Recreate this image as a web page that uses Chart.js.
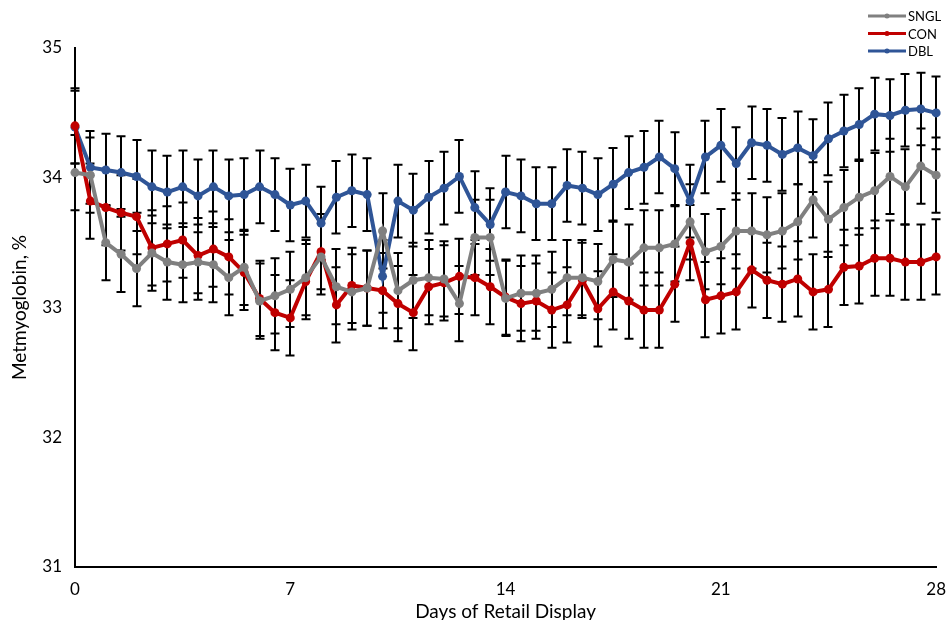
<!DOCTYPE html>
<html>
<head>
<meta charset="utf-8">
<title>Metmyoglobin during retail display</title>
<script src="https://cdn.jsdelivr.net/npm/chart.js@4.4.1/dist/chart.umd.min.js"></script>
<style>
  html, body { margin: 0; padding: 0; background: #fff; }
  canvas { display: block; }
</style>
</head>
<body>
<canvas id="chart" width="950" height="620"></canvas>
<script>
// sampling days (every half day of display)
var days = [0, 0.5, 1, 1.5, 2, 2.5, 3, 3.5, 4, 4.5, 5, 5.5, 6, 6.5, 7, 7.5, 8, 8.5, 9, 9.5,
  10, 10.5, 11, 11.5, 12, 12.5, 13, 13.5, 14, 14.5, 15, 15.5, 16, 16.5, 17, 17.5, 18, 18.5, 19, 19.5,
  20, 20.5, 21, 21.5, 22, 22.5, 23, 23.5, 24, 24.5, 25, 25.5, 26, 26.5, 27, 27.5, 28];

var sngl = [34.04, 34.02, 33.50, 33.41, 33.30, 33.42, 33.35, 33.33, 33.35, 33.33,
  33.23, 33.31, 33.05, 33.09, 33.14, 33.23, 33.39, 33.16, 33.12, 33.15,
  33.59, 33.13, 33.21, 33.23, 33.22, 33.03, 33.54, 33.54, 33.07, 33.11,
  33.11, 33.14, 33.23, 33.23, 33.20, 33.37, 33.35, 33.46, 33.46, 33.49,
  33.66, 33.43, 33.47, 33.59, 33.59, 33.56, 33.59, 33.66, 33.83, 33.68,
  33.77, 33.85, 33.90, 34.01, 33.93, 34.09, 34.02];

var con = [34.40, 33.82, 33.77, 33.73, 33.70, 33.46, 33.49, 33.52, 33.40, 33.45,
  33.39, 33.27, 33.07, 32.96, 32.92, 33.20, 33.43, 33.02, 33.17, 33.15,
  33.13, 33.03, 32.96, 33.16, 33.19, 33.24, 33.23, 33.16, 33.08, 33.03,
  33.05, 32.98, 33.02, 33.21, 32.99, 33.12, 33.05, 32.98, 32.98, 33.18,
  33.50, 33.06, 33.09, 33.12, 33.29, 33.21, 33.18, 33.22, 33.12, 33.14,
  33.31, 33.32, 33.38, 33.38, 33.35, 33.35, 33.39];

var dbl = [34.39, 34.08, 34.06, 34.04, 34.01, 33.93, 33.89, 33.93, 33.86, 33.93,
  33.86, 33.87, 33.93, 33.87, 33.79, 33.82, 33.65, 33.85, 33.90, 33.87,
  33.24, 33.82, 33.75, 33.85, 33.92, 34.01, 33.77, 33.64, 33.89, 33.86,
  33.80, 33.80, 33.94, 33.92, 33.87, 33.95, 34.04, 34.08, 34.16, 34.07,
  33.82, 34.16, 34.25, 34.11, 34.27, 34.25, 34.18, 34.23, 34.17, 34.30,
  34.36, 34.41, 34.49, 34.48, 34.52, 34.53, 34.50];

// pooled SEM per treatment
var semSNGL = 0.29;
var semCON = 0.29;
var semDBL = 0.28;

var xTicks = [0, 7, 14, 21, 28];
var yTicks = [31, 32, 33, 34, 35];

var FONT = 'Lato, "DejaVu Sans", sans-serif';

function points(values) {
  return days.map(function(d, i) { return { x: d, y: values[i] }; });
}

function series(label, values, sem, color) {
  return {
    label: label,
    data: points(values),
    sem: sem,
    borderColor: color,
    backgroundColor: color,
    pointBackgroundColor: color,
    pointBorderColor: color,
    borderWidth: 4,
    pointRadius: 4.5,
    pointBorderWidth: 0,
    tension: 0,
    clip: false
  };
}

// black SEM whiskers, drawn under the lines
var errorBars = {
  id: 'errorBars',
  beforeDatasetsDraw: function(chart) {
    var ctx = chart.ctx;
    var yScale = chart.scales.y;
    ctx.save();
    ctx.strokeStyle = '#000';
    ctx.lineWidth = 2;
    chart.data.datasets.forEach(function(ds, di) {
      var meta = chart.getDatasetMeta(di);
      meta.data.forEach(function(pt, i) {
        var v = ds.data[i].y;
        var top = yScale.getPixelForValue(v + ds.sem);
        var bot = yScale.getPixelForValue(v - ds.sem);
        var x = Math.round(pt.x);
        ctx.beginPath();
        ctx.moveTo(x, top);
        ctx.lineTo(x, bot);
        ctx.moveTo(x - 4.5, top);
        ctx.lineTo(x + 4.5, top);
        ctx.moveTo(x - 4.5, bot);
        ctx.lineTo(x + 4.5, bot);
        ctx.stroke();
      });
    });
    ctx.restore();
  }
};

// small legend stacked in the top right corner
var cornerLegend = {
  id: 'cornerLegend',
  afterDraw: function(chart) {
    var ctx = chart.ctx;
    ctx.save();
    ctx.font = '13px ' + FONT;
    ctx.textBaseline = 'middle';
    ctx.fillStyle = '#000';
    chart.data.datasets.forEach(function(ds, i) {
      var y = 16 + i * 17.5;
      ctx.strokeStyle = ds.borderColor;
      ctx.lineWidth = 3;
      ctx.beginPath();
      ctx.moveTo(868, y);
      ctx.lineTo(906, y);
      ctx.stroke();
      ctx.fillStyle = ds.borderColor;
      ctx.beginPath();
      ctx.arc(887, y, 2.5, 0, Math.PI * 2);
      ctx.fill();
      ctx.fillStyle = '#000';
      ctx.fillText(ds.label, 908, y + 1);
    });
    ctx.restore();
  }
};

var ctx = document.getElementById('chart');

new Chart(ctx, {
  type: 'line',
  data: {
    datasets: [
      series('SNGL', sngl, semSNGL, '#808080'),
      series('CON', con, semCON, '#C00000'),
      series('DBL', dbl, semDBL, '#2F5597')
    ]
  },
  plugins: [errorBars, cornerLegend],
  options: {
    responsive: false,
    animation: false,
    layout: {
      padding: { top: 48, right: 10, left: 0, bottom: 0 }
    },
    plugins: {
      legend: { display: false },
      tooltip: { enabled: false }
    },
    scales: {
      x: {
        type: 'linear',
        min: 0,
        max: 28,
        grid: { display: false },
        border: { display: true, color: '#000', width: 2 },
        afterBuildTicks: function(scale) {
          scale.ticks = xTicks.map(function(v) { return { value: v }; });
        },
        afterFit: function(scale) { scale.height = 53; },
        ticks: {
          color: '#000',
          padding: 4,
          maxRotation: 0,
          font: { family: FONT, size: 17 }
        },
        title: {
          display: true,
          text: 'Days of Retail Display',
          color: '#000',
          padding: { top: 0, bottom: -3 },
          font: { family: FONT, size: 19 }
        }
      },
      y: {
        min: 31,
        max: 35,
        grid: { display: false },
        border: { display: true, color: '#000', width: 2 },
        afterBuildTicks: function(scale) {
          scale.ticks = yTicks.map(function(v) { return { value: v }; });
        },
        afterFit: function(scale) { scale.width = 75; },
        ticks: {
          color: '#000',
          padding: 5,
          font: { family: FONT, size: 17 }
        },
        title: {
          display: true,
          text: 'Metmyoglobin, %',
          color: '#000',
          padding: { top: 8, bottom: 0 },
          font: { family: FONT, size: 19 }
        }
      }
    }
  }
});
</script>
</body>
</html>
